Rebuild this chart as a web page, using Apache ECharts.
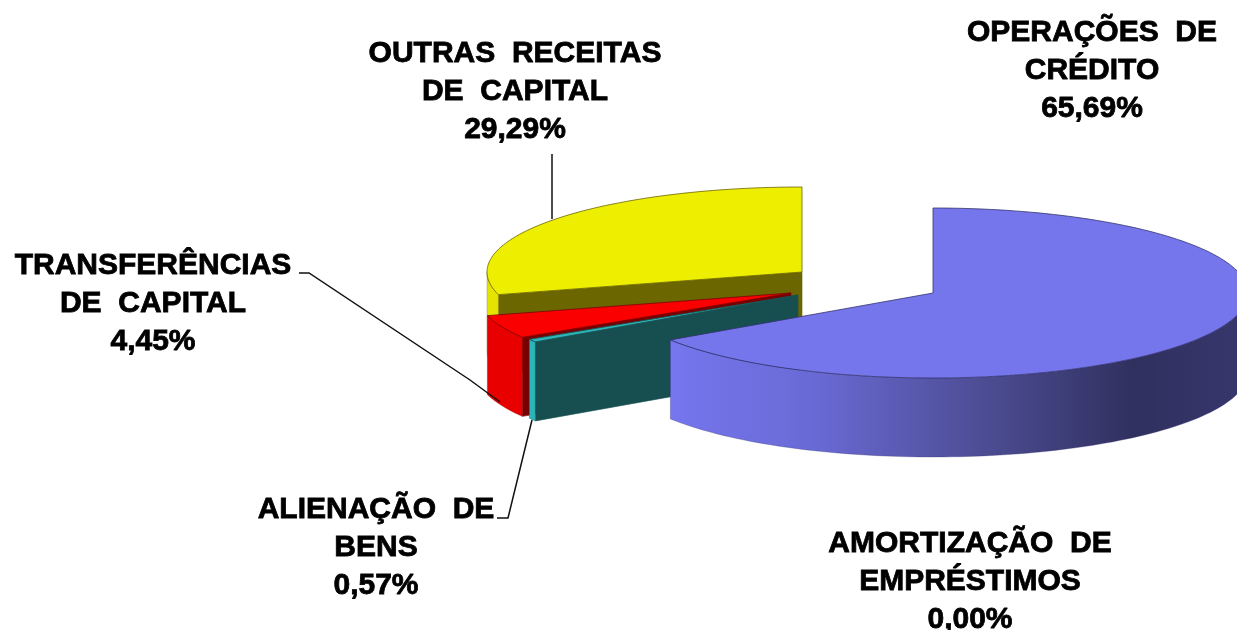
<!DOCTYPE html>
<html>
<head>
<meta charset="utf-8">
<style>html,body{margin:0;padding:0;background:#fff}#c{width:1237px;height:630px}</style>
<script src="https://cdn.jsdelivr.net/npm/echarts@6/dist/echarts.min.js"></script>
</head>
<body>
<div id="c"></div>
<script>
const categories = ['OPERAÇÕES  DE\nCRÉDITO', 'AMORTIZAÇÃO  DE\nEMPRÉSTIMOS', 'ALIENAÇÃO  DE\nBENS', 'TRANSFERÊNCIAS\nDE  CAPITAL', 'OUTRAS  RECEITAS\nDE  CAPITAL'];
const values = [65.69, 0.00, 0.57, 4.45, 29.29];

const faceColors = ['#7575ec', '#999999', '#2bb5b8', '#fb0000', '#eeee00'];
const wallColors = ['#7575ec', '#999999', '#2bb5b8', '#e80000', '#e4e400'];
const innerColors = ['#3a3a70', '#555555', '#174f50', '#780000', '#6b6600'];
const edgeColors = ['#34346e', '#555555', '#174f50', '#800000', '#6b6600'];
const sliceCenters = [[933, 293], [800, 293], [798, 295], [791, 293], [802, 272]];
const drawOrder = [4, 0, 3, 2, 1];
const labelCenters = [[1092, 71], [970, 582], [376, 548], [153, 304], [515, 92]];
const leaders = [null, null,
  [[497, 518], [508, 518], [532, 420]],
  [[299, 273], [309, 273], [470, 380], [500, 402]],
  [[552, 154], [552, 219]]];
const RX = 315, RY = 85, DEPTH = 79;

function pt(c, deg, dy) {
  const r = deg * Math.PI / 180;
  return [c[0] + RX * Math.sin(r), c[1] - RY * Math.cos(r) + (dy || 0)];
}
function arc(c, a, b, dy) {
  const out = [];
  const n = Math.max(2, Math.ceil((b - a) / 1.5));
  for (let i = 0; i <= n; i++) out.push(pt(c, a + (b - a) * i / n, dy));
  return out;
}
const total = values.reduce((s, v) => s + v, 0);
const starts = [];
values.reduce((s, v, i) => { starts[i] = s; return s + v; }, 0);

function renderItem(params, api) {
  const i = params.dataIndex;
  const value = api.value(0);
  const children = [];
  const z = drawOrder[i] * 10;
  const a = starts[i] / total * 360;
  const b = (starts[i] + value) / total * 360;
  const c = sliceCenters[i];
  if (value > 0) {
    // inner wall facing the viewer
    if (a > 180 && a < 360) {
      children.push({
        type: 'polygon', z2: z,
        shape: { points: [c, pt(c, a), pt(c, a, DEPTH), [c[0], c[1] + DEPTH]] },
        style: { fill: innerColors[i], stroke: edgeColors[i], lineWidth: 0.6 }
      });
    }
    // outer rim wall
    const wa = Math.max(a, 90), wb = Math.min(b, 270);
    if (wb > wa) {
      const fill = i === 0
        ? new echarts.graphic.LinearGradient(668, 0, 1237, 0, [
            { offset: 0, color: '#7676ee' },
            { offset: 0.25, color: '#6a6ad6' },
            { offset: 0.55, color: '#4d4d95' },
            { offset: 0.82, color: '#30305f' },
            { offset: 1, color: '#36366c' }
          ], true)
        : wallColors[i];
      children.push({
        type: 'polygon', z2: z + 1,
        shape: { points: arc(c, wa, wb, 0).concat(arc(c, wa, wb, DEPTH).reverse()) },
        style: { fill: fill, stroke: edgeColors[i], lineWidth: 0.5, strokeOpacity: 0.6 }
      });
    }
    // top face
    children.push({
      type: 'polygon', z2: z + 2,
      shape: { points: [c].concat(arc(c, a, b, 0)) },
      style: { fill: faceColors[i], stroke: edgeColors[i], lineWidth: 0.8 }
    });
  }
  // leader line
  if (leaders[i]) {
    children.push({
      type: 'polyline', z2: 70,
      shape: { points: leaders[i] },
      style: { fill: null, stroke: '#111111', lineWidth: 1.5 }
    });
  }
  // label
  const pct = value.toFixed(2).replace('.', ',') + '%';
  children.push({
    type: 'text', z2: 80,
    x: labelCenters[i][0], y: labelCenters[i][1],
    style: {
      text: api.value(1) + '\n' + pct,
      fill: '#000000',
      font: 'bold 30px "Liberation Sans", Arial, sans-serif',
      lineHeight: 38,
      align: 'center',
      verticalAlign: 'middle',
      stroke: '#000000',
      lineWidth: 0.8
    }
  });
  return { type: 'group', children: children };
}

const chart = echarts.init(document.getElementById('c'), null, { renderer: 'canvas' });
chart.setOption({
  animation: false,
  backgroundColor: '#ffffff',
  series: [{
    type: 'custom',
    coordinateSystem: 'none',
    silent: true,
    renderItem: renderItem,
    data: values.map((v, i) => ({ name: categories[i], value: [v, categories[i]] })),
    dimensions: [{ name: 'value', type: 'number' }, { name: 'label', type: 'ordinal' }]
  }]
});
</script>
</body>
</html>
